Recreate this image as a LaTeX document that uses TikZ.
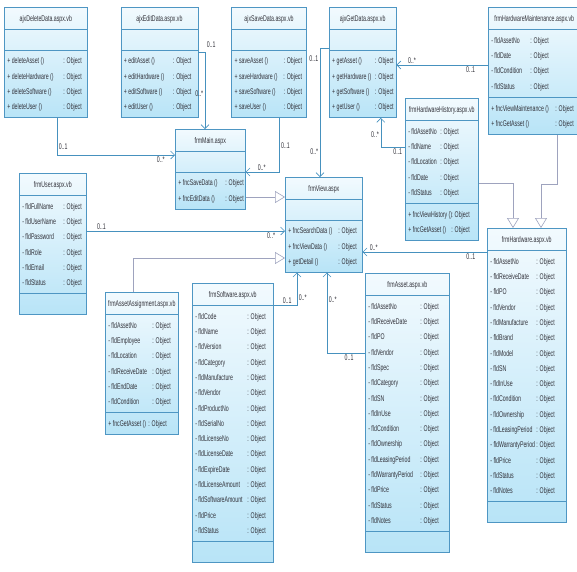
\documentclass[tikz,border=0pt]{standalone}
\usepackage{fontspec}
\usepackage{array}
\newfontfamily\umlfont[FakeStretch=0.63]{Liberation Sans}
\usepackage{tikz}
\usetikzlibrary{shapes.multipart, arrows.meta, positioning}
\definecolor{umlborder}{RGB}{78,150,195}
\definecolor{umltop}{RGB}{242,250,254}
\definecolor{umlbottom}{RGB}{184,228,247}
\definecolor{umltext}{RGB}{50,50,58}
\definecolor{umlline}{RGB}{70,145,190}
\definecolor{umlgray}{RGB}{158,163,190}
\tikzstyle{umlclass} = [rectangle split, rectangle split parts=3, draw=umlborder, line width=0.6pt, top color=umltop, bottom color=umlbottom, inner xsep=3pt, inner ysep=3pt, text=umltext, font=\umlfont\fontsize{8.3}{15.3}\selectfont, anchor=north west]
\tikzstyle{assoc} = [draw=umlline, line width=0.6pt, -{Straight Barb[length=4pt,width=8pt]}]
\tikzstyle{inherit} = [draw=umlgray, line width=0.6pt, -{Triangle[open, length=10pt, width=12pt, fill=white]}]
\tikzstyle{mult} = [font=\umlfont\fontsize{8.3}{9}\selectfont, text=umltext, inner sep=1.5pt]
% fixed width cells for the class compartments
\newcolumntype{F}[1]{>{\hbox to #1\bgroup}l<{\hss\egroup}}
\newcommand{\umlname}[2]{\begin{tabular}{@{}>{\hbox to #1\bgroup\hss}l<{\hss\egroup}@{}}#2\end{tabular}}
\newcommand{\umlrows}[3]{\begin{tabular}{@{}F{#2}@{}F{\dimexpr#1-#2\relax}@{}}#3\end{tabular}}
\newcommand{\umlempty}[1]{\rule{#1}{0pt}\rule{0pt}{14pt}}

\begin{document}
\begin{tikzpicture}[x=1pt, y=-1pt]
  \useasboundingbox (0,0) rectangle (577,571);
  % ajx classes
  \node (ajxdelete) [umlclass] at (4,7) {\umlname{77pt}{ajxDeleteData.aspx.vb}
    \nodepart{two}\umlempty{77pt}
    \nodepart{three}\umlrows{77pt}{56pt}{
      + deleteAsset () & : Object\\
      + deleteHardware () & : Object\\
      + deleteSoftware () & : Object\\
      + deleteUser () & : Object}};
  \node (ajxedit) [umlclass, right=33pt of ajxdelete.north east, anchor=north west] {\umlname{71pt}{ajxEditData.aspx.vb}
    \nodepart{two}\umlempty{71pt}
    \nodepart{three}\umlrows{71pt}{49pt}{
      + editAsset () & : Object\\
      + editHardware () & : Object\\
      + editSoftware () & : Object\\
      + editUser () & : Object}};
  \node (ajxsave) [umlclass, right=33pt of ajxedit.north east, anchor=north west] {\umlname{69pt}{ajxSaveData.aspx.vb}
    \nodepart{two}\umlempty{69pt}
    \nodepart{three}\umlrows{69pt}{49pt}{
      + saveAsset () & : Object\\
      + saveHardware () & : Object\\
      + saveSoftware () & : Object\\
      + saveUser () & : Object}};
  \node (ajxget) [umlclass, right=22pt of ajxsave.north east, anchor=north west] {\umlname{61pt}{ajxGetData.aspx.vb}
    \nodepart{two}\umlempty{61pt}
    \nodepart{three}\umlrows{61pt}{43pt}{
      + getAsset () & : Object\\
      + getHardware () & : Object\\
      + getSoftware () & : Object\\
      + getUser () & : Object}};
  \node (frmhwmaint) [umlclass] at (488,7) {\umlname{86pt}{frmHardwareMaintenance.aspx.vb}
    \nodepart{two}\umlrows{86pt}{39pt}{
      - fldAssetNo & : Object\\
      - fldDate & : Object\\
      - fldCondition & : Object\\
      - fldStatus & : Object}
    \nodepart{three}\umlrows{86pt}{64pt}{
      + fncViewMaintenance () & : Object\\
      + fncGetAsset () & : Object}};
  \node (frmhwhistory) [umlclass] at (405,98) {\umlname{67pt}{frmHardwareHistory.aspx.vb}
    \nodepart{two}\umlrows{67pt}{32pt}{
      - fldAssetNo & : Object\\
      - fldName & : Object\\
      - fldLocation & : Object\\
      - fldDate & : Object\\
      - fldStatus & : Object}
    \nodepart{three}\umlrows{67pt}{43pt}{
      + fncViewHistory () & : Object\\
      + fncGetAsset () & : Object}};
  % forms
  \node (frmmain) [umlclass] at (175,129) {\umlname{64pt}{frmMain.aspx}
    \nodepart{two}\umlempty{64pt}
    \nodepart{three}\umlrows{64pt}{47pt}{
      + fncSaveData () & : Object\\
      + fncEditData () & : Object}};
  \node (frmview) [umlclass] at (285,177) {\umlname{71pt}{frmView.aspx}
    \nodepart{two}\umlempty{71pt}
    \nodepart{three}\umlrows{71pt}{50pt}{
      + fncSearchData () & : Object\\
      + fncViewData () & : Object\\
      + getDetail () & : Object}};
  \node (frmuser) [umlclass] at (19,173) {\umlname{61pt}{frmUser.aspx.vb}
    \nodepart{two}\umlrows{61pt}{41pt}{
      - fldFullName & : Object\\
      - fldUserName & : Object\\
      - fldPassword & : Object\\
      - fldRole & : Object\\
      - fldEmail & : Object\\
      - fldStatus & : Object}
    \nodepart{three}\umlempty{61pt}};
  \node (frmassetassign) [umlclass] at (105,292) {\umlname{67pt}{frmAssetAssignment.aspx.vb}
    \nodepart{two}\umlrows{67pt}{44pt}{
      - fldAssetNo & : Object\\
      - fldEmployee & : Object\\
      - fldLocation & : Object\\
      - fldReceiveDate & : Object\\
      - fldEndDate & : Object\\
      - fldCondition & : Object}
    \nodepart{three}\umlrows{67pt}{40pt}{
      + fncGetAsset () & : Object}};
  \node (frmsoftware) [umlclass] at (192,283) {\umlname{75pt}{frmSoftware.aspx.vb}
    \nodepart{two}\umlrows{75pt}{52pt}{
      - fldCode & : Object\\
      - fldName & : Object\\
      - fldVersion & : Object\\
      - fldCategory & : Object\\
      - fldManufacture & : Object\\
      - fldVendor & : Object\\
      - fldProductNo & : Object\\
      - fldSerialNo & : Object\\
      - fldLicenseNo & : Object\\
      - fldLicenseDate & : Object\\
      - fldExpireDate & : Object\\
      - fldLicenseAmount & : Object\\
      - fldSoftwareAmount & : Object\\
      - fldPrice & : Object\\
      - fldStatus & : Object}
    \nodepart{three}\umlempty{75pt}};
  \node (frmasset) [umlclass] at (365,273) {\umlname{78pt}{frmAsset.aspx.vb}
    \nodepart{two}\umlrows{78pt}{52pt}{
      - fldAssetNo & : Object\\
      - fldReceiveDate & : Object\\
      - fldPO & : Object\\
      - fldVendor & : Object\\
      - fldSpec & : Object\\
      - fldCategory & : Object\\
      - fldSN & : Object\\
      - fldInUse & : Object\\
      - fldCondition & : Object\\
      - fldOwnership & : Object\\
      - fldLeasingPeriod & : Object\\
      - fldWarrantyPeriod & : Object\\
      - fldPrice & : Object\\
      - fldStatus & : Object\\
      - fldNotes & : Object}
    \nodepart{three}\umlempty{78pt}};
  \node (frmhardware) [umlclass] at (487,228) {\umlname{73pt}{frmHardware.aspx.vb}
    \nodepart{two}\umlrows{73pt}{46pt}{
      - fldAssetNo & : Object\\
      - fldReceiveDate & : Object\\
      - fldPO & : Object\\
      - fldVendor & : Object\\
      - fldManufacture & : Object\\
      - fldBrand & : Object\\
      - fldModel & : Object\\
      - fldSN & : Object\\
      - fldInUse & : Object\\
      - fldCondition & : Object\\
      - fldOwnership & : Object\\
      - fldLeasingPeriod & : Object\\
      - fldWarrantyPeriod & : Object\\
      - fldPrice & : Object\\
      - fldStatus & : Object\\
      - fldNotes & : Object}
    \nodepart{three}\umlempty{73pt}};

  % associations
  \draw [assoc] ([xshift=53pt]ajxdelete.south west) |- node[mult, pos=0.39, right] {0..1} node[mult, pos=0.94, below] {0..*} ([yshift=-26pt]frmmain.north west);
  \draw [assoc] ([yshift=-45pt]ajxedit.north east) -| node[mult, pos=0.5, anchor=south west, yshift=3pt] {0..1} node[mult, pos=0.77, left] {0..*} ([xshift=30pt]frmmain.north west);
  \draw [assoc] ([xshift=48pt]ajxsave.south west) |- node[mult, pos=0.26, right] {0..1} node[mult, pos=0.76, above] {0..*} ([yshift=-43pt]frmmain.north east);
  \draw [assoc] ([yshift=-41pt]ajxget.north west) -| node[mult, pos=0.54, left] {0..1} node[mult, pos=0.9, left] {0..*} ([xshift=35pt]frmview.north west);
  \draw [assoc] ([yshift=-58pt]frmhwmaint.north west) -- node[mult, pos=0.83, above] {0..*} node[mult, pos=0.19, below] {0..1} ([yshift=-58pt]ajxget.north east);
  \draw [assoc] ([yshift=-49pt]frmhwhistory.north west) -| node[mult, pos=0.72, left] {0..*} node[mult, pos=0.15, below] {0..1} ([xshift=52pt]ajxget.south west);
  \draw [assoc] ([yshift=-58pt]frmuser.north east) -- node[mult, pos=0.075, above] {0..1} node[mult, pos=0.93, below] {0..*} ([yshift=-54pt]frmview.north west);
  \draw [assoc] ([yshift=-22pt]frmsoftware.north east) -| node[mult, pos=0.29, above] {0..1} node[mult, pos=0.61, right] {0..*} ([xshift=12pt]frmview.south west);
  \draw [assoc] ([yshift=-80pt]frmasset.north west) -| node[mult, pos=0.83, right] {0..*} node[mult, pos=0.21, below] {0..1} ([xshift=42pt]frmview.south west);
  \draw [assoc] ([yshift=-24pt]frmhardware.north west) -- node[mult, pos=0.91, above] {0..*} node[mult, pos=0.13, below] {0..1} ([yshift=-75pt]frmview.north east);

  % generalizations
  \draw [inherit] ([yshift=-68pt]frmmain.north east) -- ([yshift=-20pt]frmview.north west);
  \draw [inherit] ([xshift=28pt]frmassetassign.north west) |- ([yshift=-81pt]frmview.north west);
  \draw [inherit] ([yshift=-85pt]frmhwhistory.north east) -| ([xshift=26pt]frmhardware.north west);
  \draw [inherit] ([xshift=69pt]frmhwmaint.south west) -- ++(0,50) -| ([xshift=54pt]frmhardware.north west);
\end{tikzpicture}
\end{document}
